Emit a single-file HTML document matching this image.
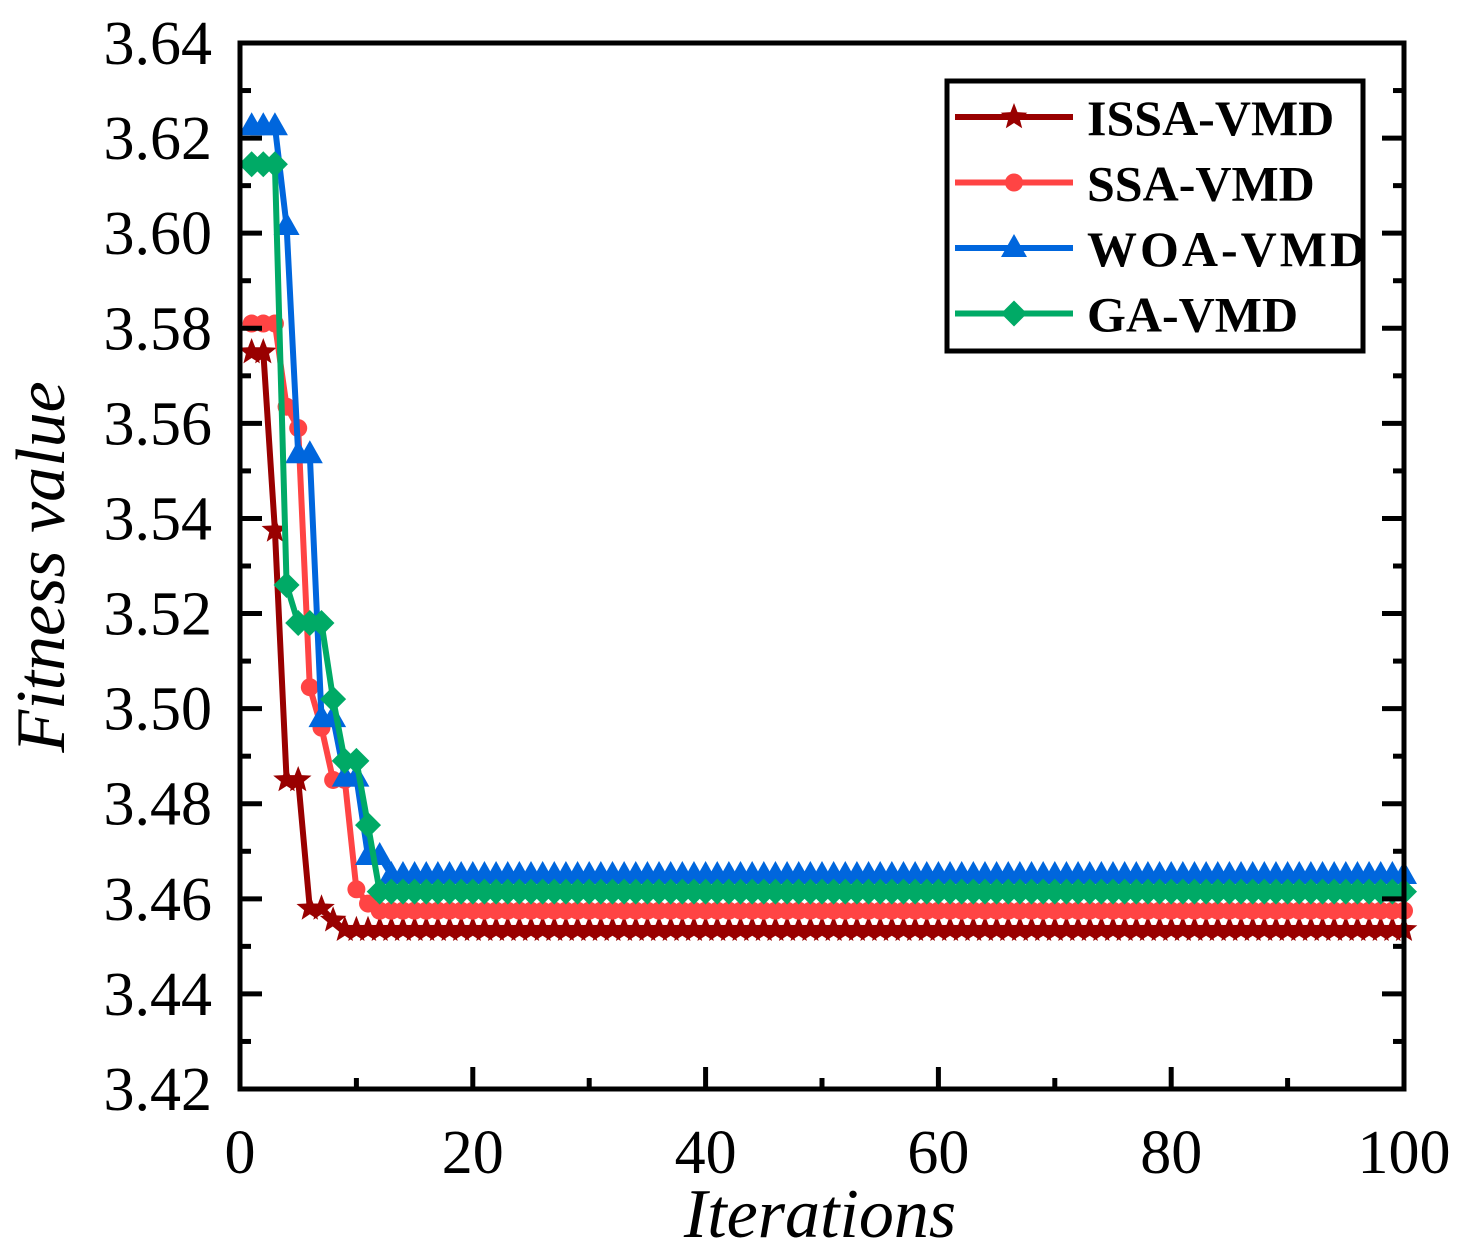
<!DOCTYPE html>
<html><head><meta charset="utf-8"><style>
body{margin:0;background:#fff}
svg{display:block;font-family:"Liberation Serif",serif}
</style></head><body>
<svg id="chart" width="1466" height="1251" viewBox="0 0 1466 1251">
<g id="marks"></g>
<g id="axes"></g>
</svg>
<script>
const xTicks=[0,20,40,60,80,100];
const yTicks=[3.42,3.44,3.46,3.48,3.50,3.52,3.54,3.56,3.58,3.60,3.62,3.64];
const seriesNames=["ISSA-VMD","SSA-VMD","WOA-VMD","GA-VMD"];
const issa=[3.575,3.575,3.5375,3.485,3.485,3.458,3.458,3.4555].concat(Array(92).fill(3.4535));
const ssa=[3.581,3.581,3.581,3.5635,3.559,3.5045,3.496,3.485,3.485,3.462,3.459].concat(Array(89).fill(3.4575));
const woa=[3.6225,3.6225,3.6225,3.6015,3.5535,3.5535,3.498,3.498,3.4855,3.4855,3.469,3.469].concat(Array(88).fill(3.465));
const ga=[3.6145,3.6145,3.6145,3.526,3.518,3.518,3.518,3.502,3.489,3.489,3.4755,3.4615].concat(Array(88).fill(3.4615));
const L=240,R=1404,T=43,B=1089;
const X=v=>L+(v-0)/(100-0)*(R-L);
const Y=v=>B-(v-3.42)/(3.64-3.42)*(B-T);
const NS="http://www.w3.org/2000/svg";
function mk(tag,attrs,parent){const e=document.createElementNS(NS,tag);for(const k in attrs)e.setAttribute(k,attrs[k]);parent.appendChild(e);return e;}
const marks=document.getElementById('marks'),axes=document.getElementById('axes');
const colors=["#990000","#ff4444","#0066dd","#00aa66"];
const kinds=["star","circle","tri","diamond"];
function marker(kind,cx,cy,color,parent){
  let e;
  if(kind==="circle"){e=mk('circle',{cx:cx,cy:cy,r:9,fill:color},parent);}
  else if(kind==="tri"){e=mk('polygon',{points:`${cx},${cy-14} ${cx+13},${cy+9} ${cx-13},${cy+9}`,fill:color},parent);}
  else if(kind==="diamond"){e=mk('polygon',{points:`${cx},${cy-13} ${cx+13},${cy} ${cx},${cy+13} ${cx-13},${cy}`,fill:color},parent);}
  else{let p=[];for(let i=0;i<10;i++){const r=i%2?6:14,a=-Math.PI/2+i*Math.PI/5;p.push((cx+r*Math.cos(a)).toFixed(1)+","+(cy+r*Math.sin(a)).toFixed(1));}
    e=mk('polygon',{points:p.join(' '),fill:color},parent);}
  return e;
}
[issa,ssa,woa,ga].forEach((data,si)=>{
  const g=mk('g',{},marks);
  
  
  const pts=data.map((v,i)=>X(i+1).toFixed(1)+","+Y(v).toFixed(1)).join(' ');
  const pl=mk('polyline',{points:pts,fill:'none',stroke:colors[si],'stroke-width':6,'stroke-linejoin':'miter'},g);
  
  
  data.forEach((v,i)=>{const m=marker(kinds[si],X(i+1),Y(v),colors[si],g);
    
    });
});
const fr=mk('rect',{x:L,y:T,width:R-L,height:B-T,fill:'none',stroke:'#000','stroke-width':5},axes);


for(let i=0;i<xTicks.length;i++){
  const v=xTicks[i],x=X(v);
  mk('line',{x1:x,y1:B,x2:x,y2:B-22,stroke:'#000','stroke-width':5},axes);
  const t=mk('text',{x:x,y:1173,'font-size':62,'text-anchor':'middle'},axes);t.textContent=v;
  
  
  if(i<xTicks.length-1){const xm=X(v+10);mk('line',{x1:xm,y1:B,x2:xm,y2:B-11,stroke:'#000','stroke-width':5},axes);}
}
for(let i=0;i<yTicks.length;i++){
  const v=yTicks[i],y=Y(v);
  mk('line',{x1:L,y1:y,x2:L+22,y2:y,stroke:'#000','stroke-width':5},axes);
  mk('line',{x1:R,y1:y,x2:R-22,y2:y,stroke:'#000','stroke-width':5},axes);
  const t=mk('text',{x:212,y:y+21,'font-size':62,'text-anchor':'end'},axes);t.textContent=v.toFixed(2);
  
  
  if(i<yTicks.length-1){const ym=Y(v+0.01);
    mk('line',{x1:L,y1:ym,x2:L+11,y2:ym,stroke:'#000','stroke-width':5},axes);
    mk('line',{x1:R,y1:ym,x2:R-11,y2:ym,stroke:'#000','stroke-width':5},axes);}
}
const xt=mk('text',{x:820,y:1237,'font-size':70,'font-style':'italic','text-anchor':'middle'},axes);xt.textContent="Iterations";


const yt=mk('text',{x:0,y:0,'font-size':70,'font-style':'italic','text-anchor':'middle',transform:'translate(64,567) rotate(-90)'},axes);yt.textContent="Fitness value";


const lg=mk('g',{},axes);


mk('rect',{x:947,y:81,width:416,height:270,fill:'#fff',stroke:'#000','stroke-width':5},lg);
seriesNames.forEach((n,i)=>{
  const y=117+i*65.5;
  const e=mk('g',{},lg);
  
  
  mk('line',{x1:955,y1:y,x2:1073,y2:y,stroke:colors[i],'stroke-width':6},e);
  marker(kinds[i],1014,y,colors[i],e);
  const t=mk('text',{x:1087,y:y+18,'font-size':50,'font-weight':'bold'},e);t.textContent=n;
  if(n==="WOA-VMD"){t.setAttribute('letter-spacing','3');}
});
</script>
</body></html>
